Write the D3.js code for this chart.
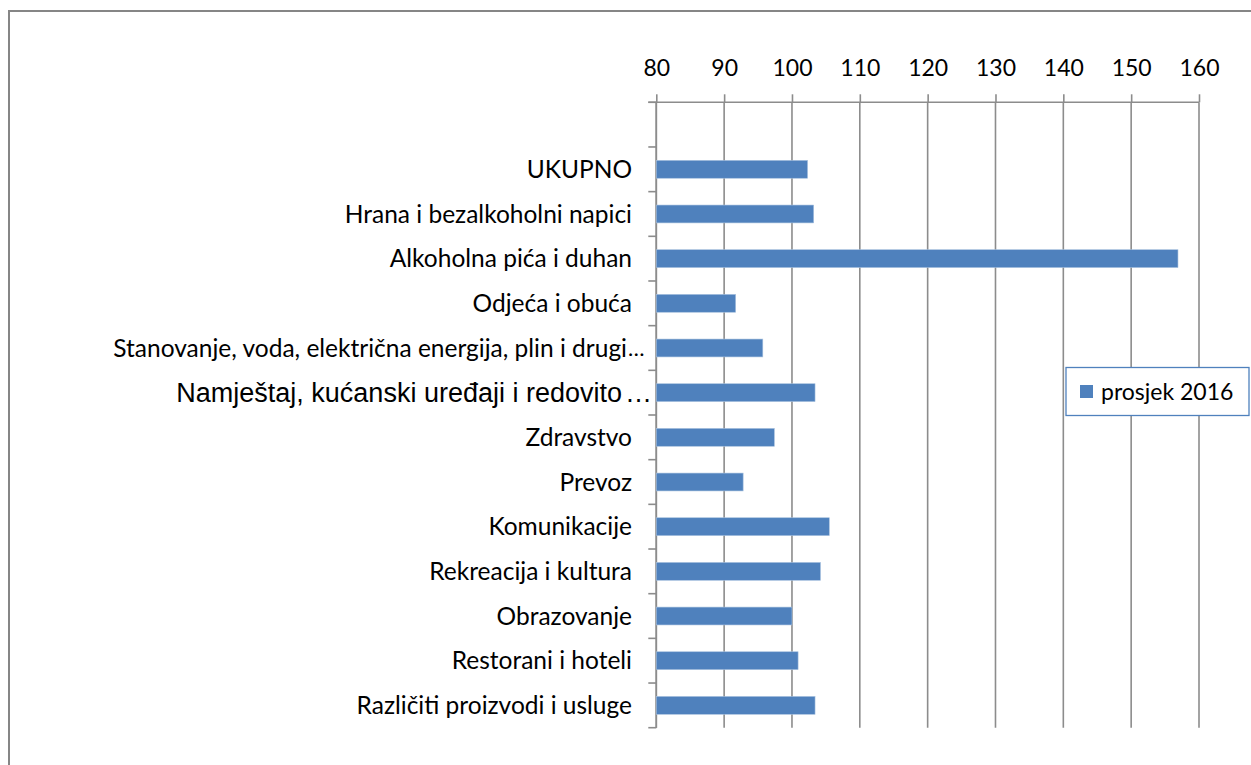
<!DOCTYPE html>
<html>
<head>
<meta charset="utf-8">
<script src="https://cdn.jsdelivr.net/npm/d3@7"></script>
<style>
  html, body { margin: 0; padding: 0; background: #fff; }
  svg { display: block; }
</style>
</head>
<body>
<svg id="chart" width="1251" height="765"></svg>
<script>
// ---- data ----
const categories = [
  "",
  "UKUPNO",
  "Hrana i bezalkoholni napici",
  "Alkoholna pića i duhan",
  "Odjeća i obuća",
  "Stanovanje, voda, električna energija, plin i drugi",
  "Namještaj, kućanski uređaji i redovito",
  "Zdravstvo",
  "Prevoz",
  "Komunikacije",
  "Rekreacija i kultura",
  "Obrazovanje",
  "Restorani i hoteli",
  "Različiti proizvodi i usluge"
];
const truncated = [
  "Stanovanje, voda, električna energija, plin i drugi",
  "Namještaj, kućanski uređaji i redovito"
];
const values = [null, 102.3, 103.2, 156.9, 91.7, 95.7, 103.4, 97.4, 92.8, 105.5, 104.2, 100.0, 100.9, 103.4];
const xTicks = [80, 90, 100, 110, 120, 130, 140, 150, 160];
const seriesName = "prosjek 2016";

// ---- layout ----
const svg = d3.select("#chart");
const pLeft = 656.3, pRight = 1199, pTop = 102.3, pBottom = 727.7;
const gridColor = "#8c8c8c";
const barColor = "#4f81bd";
const font = "Lato, 'Open Sans', sans-serif";
const arial = "'Liberation Sans', Arial, sans-serif";

// outer chart border
svg.append("rect")
  .attr("x", 9).attr("y", 11)
  .attr("width", 1300).attr("height", 800)
  .attr("fill", "none").attr("stroke", "#868686").attr("stroke-width", 2);

const x = d3.scaleLinear().domain([80, 160]).range([pLeft, pRight]);
const y = d3.scaleBand().domain(categories.map((c, i) => i)).range([pTop, pBottom]).padding(0);
const step = y.step();

// gridlines
svg.append("g").selectAll("line").data(xTicks).join("line")
  .attr("x1", d => x(d)).attr("x2", d => x(d))
  .attr("y1", pTop).attr("y2", pBottom)
  .attr("stroke", gridColor).attr("stroke-width", 1.6);

// top axis
const xAxis = d3.axisTop(x).tickValues(xTicks).tickSize(8).tickPadding(18);
const gx = svg.append("g").attr("transform", `translate(0,${pTop})`).call(xAxis);
gx.select(".domain").remove();
gx.append("line").attr("x1", pLeft - 8).attr("x2", pRight).attr("y1", 0).attr("y2", 0)
  .attr("stroke", gridColor).attr("stroke-width", 1.6);
gx.selectAll(".tick line").attr("stroke", gridColor).attr("stroke-width", 1.6);
gx.selectAll(".tick text").attr("fill", "#000").attr("font-family", font).attr("font-size", "23px");

// left axis line + ticks at category boundaries
svg.append("line").attr("x1", pLeft).attr("x2", pLeft).attr("y1", pTop).attr("y2", pBottom)
  .attr("stroke", gridColor).attr("stroke-width", 1.6);
const boundaries = d3.range(categories.length + 1).map(i => pTop + i * step);
svg.append("g").selectAll("line").data(boundaries).join("line")
  .attr("x1", pLeft - 8).attr("x2", pLeft)
  .attr("y1", d => d).attr("y2", d => d)
  .attr("stroke", gridColor).attr("stroke-width", 1.6);

// bars
const barH = step * 0.4;
svg.append("g").selectAll("rect").data(values.map((v, i) => ({v, i})).filter(d => d.v != null)).join("rect")
  .attr("x", x(80))
  .attr("y", d => y(d.i) + (step - barH) / 2)
  .attr("width", d => x(d.v) - x(80))
  .attr("height", barH)
  .attr("fill", barColor)
  .attr("stroke", "#a7c0de").attr("stroke-width", 0.6);

// category labels
const lg = svg.append("g");
categories.forEach((c, i) => {
  if (!c) return;
  const cy = y(i) + step / 2;
  const isArial = c.startsWith("Namje");
  const isTrunc = truncated.includes(c);
  lg.append("text")
    .attr("x", isArial ? 622 : (isTrunc ? 627 : 632))
    .attr("y", cy).attr("dy", "0.35em")
    .attr("text-anchor", "end")
    .attr("font-family", isArial ? arial : font)
    .attr("font-size", isArial ? "27px" : "24.5px")
    .attr("fill", "#000")
    .text(c);
  if (isTrunc) {
    lg.append("text")
      .attr("x", isArial ? 625 : 628)
      .attr("y", cy).attr("dy", "0.35em")
      .attr("font-family", isArial ? arial : font)
      .attr("font-size", isArial ? "27px" : "22px")
      .attr("fill", "#000")
      .text("…");
  }
});

// legend
const leg = svg.append("g");
leg.append("rect").attr("x", 1066).attr("y", 367.5).attr("width", 183).attr("height", 48)
  .attr("fill", "#fff").attr("stroke", "#4f81bd").attr("stroke-width", 1.3);
leg.append("rect").attr("x", 1080).attr("y", 385).attr("width", 13).attr("height", 13)
  .attr("fill", barColor);
leg.append("text").attr("x", 1101).attr("y", 391.5).attr("dy", "0.35em")
  .attr("font-family", font).attr("font-size", "23px").attr("fill", "#000")
  .text(seriesName);
</script>
</body>
</html>
